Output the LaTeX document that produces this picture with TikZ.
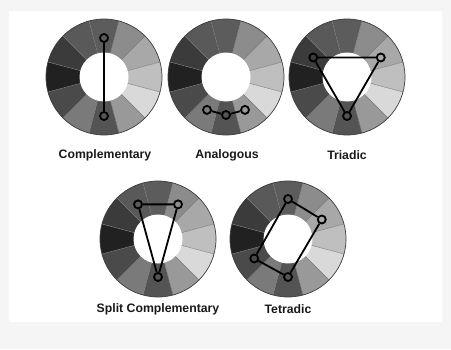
\documentclass[tikz,border=0pt]{standalone}
\usepackage{fontspec}
\setmainfont{Liberation Sans}
\usetikzlibrary{positioning}
\definecolor{pagegray}{RGB}{245,245,245}
\definecolor{rimgray}{RGB}{60,60,60}
\definecolor{sepgray}{RGB}{120,120,120}

% one grey wheel of twelve slices, centre named #1
\newcommand{\colorwheel}[3]{%
  \coordinate (#1) at (#2,#3);
  \foreach \ang/\dark in {90/64,60/45,30/34,0/25,-30/15,-60/40,-90/67,-120/52,-150/71,180/87,150/77,120/65}
    \fill[black!\dark] (#1) -- +(\ang-15:58) arc[start angle=\ang-15,end angle=\ang+15,radius=58] -- cycle;
  \foreach \ang in {15,45,...,345}
    \draw[wheelsep] ([shift={(\ang:24)}]#1) -- ([shift={(\ang:58)}]#1);
  \fill[white] (#1) circle[radius=24.5];
  \draw[wheelrim] (#1) circle[radius=58];
}

\begin{document}
\begin{tikzpicture}[x=1bp,y=1bp,
  wheelsep/.style={sepgray,line width=0.4bp},
  wheelrim/.style={rimgray,line width=0.7bp},
  hue/.style={circle,draw=black,line width=1.8bp,minimum size=8bp,inner sep=0pt},
  link/.style={black,line width=1.8bp},
  caption/.style={font=\fontsize{12.3}{14}\selectfont\bfseries,text=black!90}]
\useasboundingbox (0,0) rectangle (451,349);
\fill[pagegray] (0,0) rectangle (451,349);
\fill[white] (9,27) rectangle (442,338);

% top row
\colorwheel{comp}{104}{272}
\colorwheel{anal}{226}{272}
\colorwheel{tri}{347}{272}
% bottom row
\colorwheel{split}{158}{110}
\colorwheel{tetra}{288}{110}

% complementary
\node[hue] (c1) at ([shift={(90:39)}]comp) {};
\node[hue] (c2) at ([shift={(270:39)}]comp) {};
\draw[link] (c1) -- (c2);

% analogous
\node[hue] (a1) at ([shift={(240:38)}]anal) {};
\node[hue] (a2) at ([shift={(270:38)}]anal) {};
\node[hue] (a3) at ([shift={(300:38)}]anal) {};
\draw[link] (a1) -- (a2) -- (a3);

% triadic
\node[hue] (t1) at ([shift={(150:39)}]tri) {};
\node[hue] (t2) at ([shift={(30:39)}]tri) {};
\node[hue] (t3) at ([shift={(270:39)}]tri) {};
\draw[link] (t1) -- (t2) -- (t3) -- (t1);

% split complementary
\node[hue] (s1) at ([shift={(120:40)}]split) {};
\node[hue] (s2) at ([shift={(60:40)}]split) {};
\node[hue] (s3) at ([shift={(270:38)}]split) {};
\draw[link] (s1) -- (s2) -- (s3) -- (s1);

% tetradic
\node[hue] (q1) at ([shift={(90:40)}]tetra) {};
\node[hue] (q2) at ([shift={(30:39)}]tetra) {};
\node[hue] (q3) at ([shift={(270:38)}]tetra) {};
\node[hue] (q4) at ([shift={(210:39)}]tetra) {};
\draw[link] (q1) -- (q2) -- (q3) -- (q4) -- (q1);

\node[caption] (complabel) at (105,194) {Complementary};
\node[caption] (anallabel) at (227,194) {Analogous};
\node[caption] (trilabel) at (347,194) {Triadic};
\node[caption] (splitlabel) at (158,40) {Split Complementary};
\node[caption] (tetralabel) at (288,40) {Tetradic};
\end{tikzpicture}
\end{document}
